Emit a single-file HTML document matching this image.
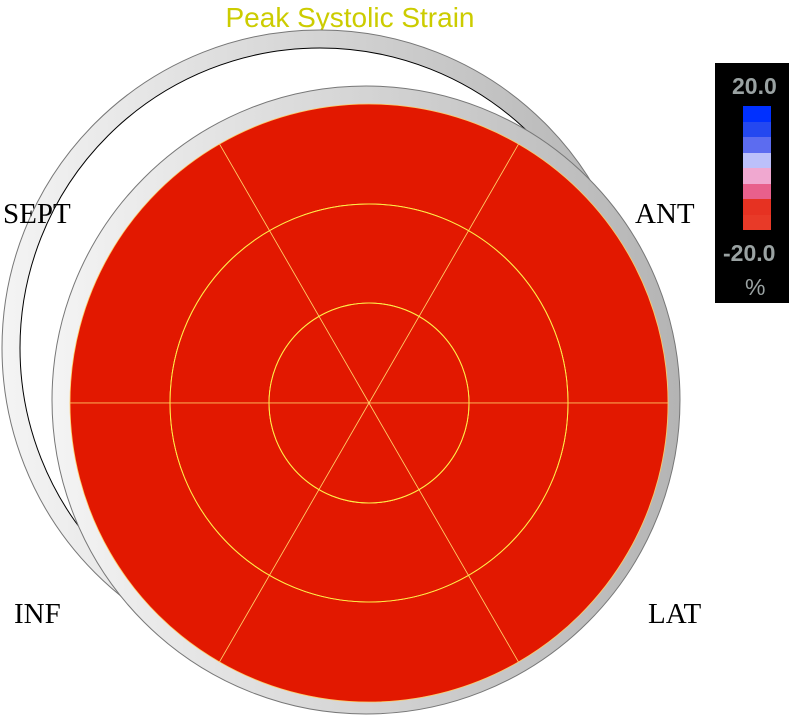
<!DOCTYPE html>
<html><head><meta charset="utf-8"><style>
body{margin:0;background:#fff;width:801px;height:724px;overflow:hidden;position:relative}
.lbl{position:absolute;font-family:"Liberation Serif",serif;font-size:29px;color:#000;line-height:1}
.lg{position:absolute;font-family:"Liberation Sans Narrow","Liberation Sans",sans-serif;font-weight:bold;font-size:23px;line-height:1;color:#9aa2a2}
</style></head><body>
<div style="position:absolute;left:0;width:700px;top:2px;text-align:center;font-family:'Liberation Sans',sans-serif;font-size:28px;color:#cccc00">Peak Systolic Strain</div>
<svg id="bull" width="801" height="724" style="position:absolute;left:0;top:0">
<defs>
<linearGradient id="bz" x1="0" x2="1" y1="0" y2="0"><stop offset="0" stop-color="#f4f4f4"/><stop offset="1" stop-color="#b4b4b4"/></linearGradient>
</defs>
<circle cx="320" cy="348" r="318" fill="url(#bz)" stroke="#777" stroke-width="1"/>
<circle cx="320" cy="348" r="300" fill="#fff" stroke="#000" stroke-width="1"/>
<circle cx="366" cy="400" r="314" fill="url(#bz)" stroke="#777" stroke-width="1"/>
<g id="segs"></g>
</svg>
<div class="lbl" style="left:3px;top:200px">SEPT</div>
<div class="lbl" style="left:635px;top:200px">ANT</div>
<div class="lbl" style="left:14px;top:600px">INF</div>
<div class="lbl" style="left:648px;top:600px">LAT</div>
<div style="position:absolute;left:715px;top:63px;width:74px;height:240px;background:#000">
<div class="lg" style="left:17px;top:12px">20.0</div>
<div id="bar" style="position:absolute;left:28px;top:43px;width:28px;height:124px"></div>
<div class="lg" style="left:8px;top:179px">-20.0</div>
<div class="lg" style="left:30px;top:213px;font-weight:normal">%</div>
</div>
<script>
const segmentNames=["basal-1","basal-2","basal-3","basal-4","basal-5","basal-6","mid-1","mid-2","mid-3","mid-4","mid-5","mid-6","apical-1","apical-2","apical-3","apical-4","apical-5","apical-6"];
const segmentValues=[-20,-20,-20,-20,-20,-20,-20,-20,-20,-20,-20,-20,-20,-20,-20,-20,-20,-20];
const legendColors=["#0030ff","#2448f0","#5c6cf0","#bcc0fa","#f0a8d0","#e8608c","#e63222","#e83a28"];
const cx=369,cy=403,radii=[299,199,100];
function colorOf(v){let i=Math.round((20-v)/40*(legendColors.length-1));i=Math.max(0,Math.min(legendColors.length-1,i));return v<=-15?"#e21800":legendColors[i];}
const NS="http://www.w3.org/2000/svg",g=document.getElementById("segs");
segmentValues.forEach((v,k)=>{
 const ring=Math.floor(k/6),s=k%6;
 const ro=radii[ring],ri=ring<2?radii[ring+1]:0;
 const a0=(s*60)*Math.PI/180,a1=((s+1)*60)*Math.PI/180;
 const p=(r,a)=>(cx+r*Math.cos(a)).toFixed(2)+","+(cy-r*Math.sin(a)).toFixed(2);
 let d="M"+p(ro,a0)+" A"+ro+","+ro+" 0 0 0 "+p(ro,a1);
 d+= ri>0 ? " L"+p(ri,a1)+" A"+ri+","+ri+" 0 0 1 "+p(ri,a0)+" Z" : " L"+cx+","+cy+" Z";
 const el=document.createElementNS(NS,"path");
 el.setAttribute("d",d);el.setAttribute("fill",colorOf(v));
 el.setAttribute("stroke","#ffcc66");el.setAttribute("stroke-width","0.8");
 
 
 g.appendChild(el);
});
[199,100].forEach(r=>{const c=document.createElementNS(NS,"circle");c.setAttribute("cx",cx);c.setAttribute("cy",cy);c.setAttribute("r",r);c.setAttribute("fill","none");c.setAttribute("stroke","#ffee44");c.setAttribute("stroke-width","1");


g.appendChild(c);});
const bar=document.getElementById("bar");
legendColors.forEach(c=>{const d=document.createElement("div");d.style.height=(124/legendColors.length)+"px";d.style.background=c;


bar.appendChild(d);});
</script>
</body></html>
